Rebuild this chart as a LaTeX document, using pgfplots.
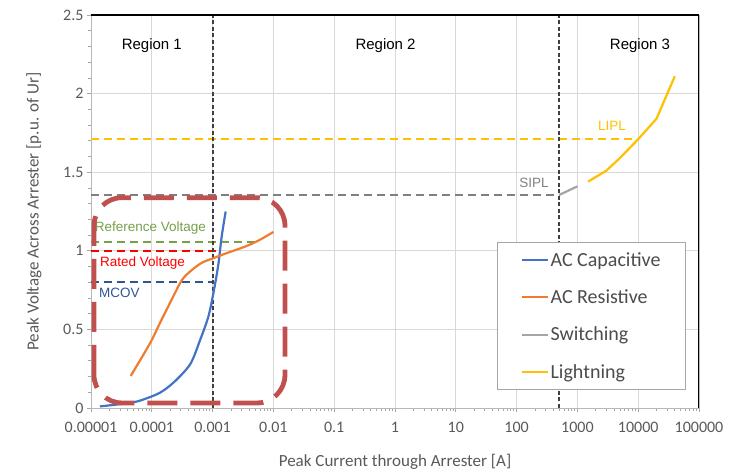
\documentclass[border=0pt]{standalone}
\usepackage{pgfplots}
\pgfplotsset{compat=1.18}
\usepackage{fontspec}
\setmainfont{Carlito}
\newfontfamily\arial{Liberation Sans}
\definecolor{cblue}{HTML}{4472C4}
\definecolor{corange}{HTML}{ED7D31}
\definecolor{cgray}{HTML}{A5A5A5}
\definecolor{cyellow}{HTML}{FFC000}
\definecolor{cgreen}{HTML}{76A04A}
\definecolor{cred}{HTML}{FF0000}
\definecolor{cnavy}{HTML}{2F5597}
\definecolor{cbox}{HTML}{C0504D}
\definecolor{cdiv}{HTML}{404040}
\definecolor{csipl}{HTML}{808080}
\begin{document}
\begin{tikzpicture}
\begin{axis}[
 xmode=log, log basis x=10,
 scale only axis, width=608pt, height=393pt,
 at={(91pt,65pt)}, anchor=south west,
 xmin=1e-5, xmax=1e5, ymin=0, ymax=2.5,
 xtick={1e-5,1e-4,1e-3,1e-2,1e-1,1,10,100,1000,10000,100000},
 xticklabels={0.00001,0.0001,0.001,0.01,0.1,1,10,100,1000,10000,100000},
 minor xtick={2e-5,3e-5,4e-5,5e-5,6e-5,7e-5,8e-5,9e-5,
  2e-4,3e-4,4e-4,5e-4,6e-4,7e-4,8e-4,9e-4,
  2e-3,3e-3,4e-3,5e-3,6e-3,7e-3,8e-3,9e-3,
  0.02,0.03,0.04,0.05,0.06,0.07,0.08,0.09,
  0.2,0.3,0.4,0.5,0.6,0.7,0.8,0.9,
  2,3,4,5,6,7,8,9,
  20,30,40,50,60,70,80,90,
  200,300,400,500,600,700,800,900,
  2000,3000,4000,5000,6000,7000,8000,9000,
  20000,30000,40000,50000,60000,70000,80000,90000},
 ytick={0,0.5,1,1.5,2,2.5},
 yticklabels={0,0.5,1,1.5,2,2.5},
 minor ytick={0.1,0.2,0.3,0.4,0.6,0.7,0.8,0.9,1.1,1.2,1.3,1.4,1.6,1.7,1.8,1.9,2.1,2.2,2.3,2.4},
 xmajorgrids, ymajorgrids,
 major grid style={draw=black!15, line width=0.9pt},
 axis line style={draw=black!28, line width=0.9pt},
 tick style={draw=black!35, line width=0.7pt},
 xtick pos=left, ytick pos=left,
 tick align=outside,
 major tick length=4pt, minor tick length=3pt,
 ticklabel style={font=\fontsize{16}{16}\selectfont, text=black!65},
 xticklabel style={yshift=-7pt},
 xlabel={Peak Current through Arrester [A]},
 ylabel={Peak Voltage Across Arrester [p.u. of Ur]},
 every axis x label/.style={at={(axis description cs:0.5,-0.137)}, anchor=center, font=\fontsize{17}{17}\selectfont, text=black!65},
 every axis y label/.style={at={(axis description cs:-0.094,0.5)}, anchor=center, rotate=90, font=\fontsize{17}{17}\selectfont, text=black!65},
 legend style={at={(rel axis cs:0.668,0.4224)}, anchor=north west, draw=black!35, line width=0.9pt, fill=white,
   font=\fontsize{20}{20}\selectfont, text=black!70, inner xsep=23pt, inner ysep=8pt, row sep=18pt},
 legend cell align=left,
 legend image code/.code={\draw[#1, line width=2pt] (0pt,0pt) -- (26pt,0pt);},
]
% reference dashed lines
\addplot[forget plot, cyellow, line width=1.6pt, dash pattern=on 8pt off 5pt] coordinates {(1e-5,1.71) (1e4,1.71)};
\addplot[forget plot, csipl, line width=1.6pt, dash pattern=on 8pt off 5pt] coordinates {(1e-5,1.355) (500,1.355)};
\addplot[forget plot, cgreen, line width=1.6pt, dash pattern=on 8pt off 5pt] coordinates {(1e-5,1.055) (5e-3,1.055)};
\addplot[forget plot, cred, line width=1.6pt, dash pattern=on 8pt off 5pt] coordinates {(1e-5,1.0) (1.3e-3,1.0)};
\addplot[forget plot, cnavy, line width=1.6pt, dash pattern=on 8pt off 5pt] coordinates {(1e-5,0.8) (1e-3,0.8)};
% region dividers
\addplot[forget plot, cdiv, line width=1.9pt, dash pattern=on 4pt off 2.5pt] coordinates {(1e-3,0) (1e-3,2.5)};
\addplot[forget plot, cdiv, line width=1.9pt, dash pattern=on 4pt off 2.5pt] coordinates {(500,0) (500,2.5)};
% series
\addplot[cblue, line width=2.2pt, smooth] coordinates {
 (1.4e-5,0.01) (3.9e-5,0.03) (6.4e-5,0.047) (1.36e-4,0.097) (2.4e-4,0.17) (4.3e-4,0.28)
 (6.2e-4,0.43) (8.5e-4,0.58) (1.03e-3,0.73) (1.24e-3,0.91) (1.41e-3,1.09) (1.64e-3,1.25)};
\addlegendentry{AC Capacitive}
\addplot[corange, line width=2.2pt, smooth] coordinates {
 (4.5e-5,0.204) (9.3e-5,0.41) (1.36e-4,0.54) (2.26e-4,0.71) (3.3e-4,0.826) (6.2e-4,0.917)
 (1.03e-3,0.953) (1.7e-3,0.985) (3.6e-3,1.03) (6e-3,1.07) (1e-2,1.12)};
\addlegendentry{AC Resistive}
\addplot[cgray, line width=2.2pt] coordinates {(500,1.355) (1000,1.41)};
\addlegendentry{Switching}
\addplot[cyellow, line width=2.2pt] coordinates {(1500,1.44) (3000,1.51) (5000,1.59) (10000,1.71) (20000,1.84) (40000,2.11)};
\addlegendentry{Lightning}
% frame top/right
\draw[black, line width=1.1pt] (rel axis cs:0,1) -- (rel axis cs:1,1) -- (rel axis cs:1,0);
% texts
\node[font=\arial\fontsize{15}{15}\selectfont] at (axis cs:1e-4,2.306) {Region 1};
\node[font=\arial\fontsize{15}{15}\selectfont] at (axis cs:0.7,2.306) {Region 2};
\node[font=\arial\fontsize{15}{15}\selectfont] at (axis cs:1.07e4,2.306) {Region 3};
\node[anchor=west, inner sep=0pt, text=cgreen, font=\arial\fontsize{13.5}{13.5}\selectfont] at (axis cs:1.15e-5,1.146) {Reference Voltage};
\node[anchor=west, inner sep=0pt, text=cred, font=\arial\fontsize{13.5}{13.5}\selectfont] at (axis cs:1.4e-5,0.925) {Rated Voltage};
\node[anchor=west, inner sep=0pt, text=cnavy, font=\arial\fontsize{13.5}{13.5}\selectfont] at (axis cs:1.35e-5,0.73) {MCOV};
\node[anchor=east, inner sep=0pt, text=csipl, font=\arial\fontsize{13.5}{13.5}\selectfont] at (axis cs:340,1.433) {SIPL};
\node[inner sep=0pt, text=cyellow, font=\arial\fontsize{13.5}{13.5}\selectfont] at (axis cs:3700,1.796) {LIPL};
% highlight box
\draw[cbox, line width=4.8pt, dash pattern=on 30pt off 13pt, rounded corners=28pt] (axis cs:1.12e-5,0.032) rectangle (axis cs:0.0155,1.338);
\end{axis}
\pgfresetboundingbox
\path[use as bounding box] (0,0) rectangle (737pt,473pt);
\end{tikzpicture}
\end{document}
